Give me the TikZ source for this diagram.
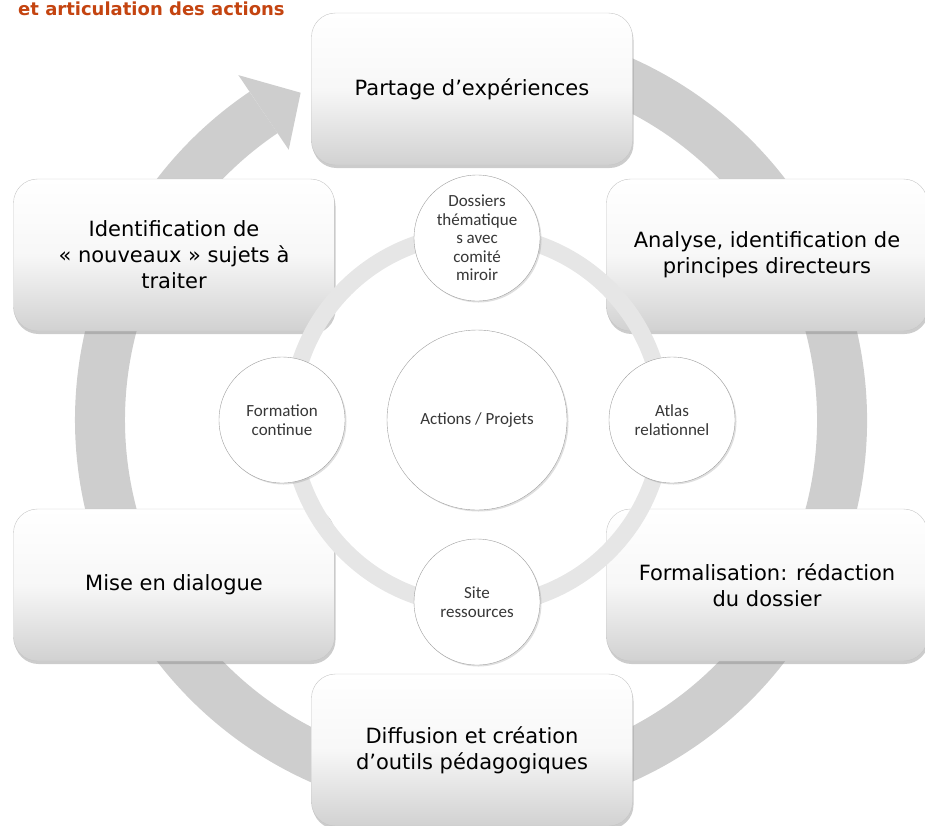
\documentclass[tikz,border=0pt]{standalone}
\usepackage{fontspec}
\setmainfont{DejaVu Sans}
\newfontfamily\circfont{Carlito}
\usepackage{xcolor}
\usepackage{tikz}
\usetikzlibrary{shadows}
\usetikzlibrary{positioning}
\definecolor{titlered}{RGB}{196,68,16}
\definecolor{ringgray}{RGB}{206,206,206}
\definecolor{ringlight}{RGB}{230,230,230}
\definecolor{circtext}{RGB}{55,55,55}
\tikzset{
    stagebox/.style = {rectangle, rounded corners=24pt, draw=gray!45, thin, top color=white, bottom color=black!18, middle color=white!97!black, minimum width=321pt, minimum height=152pt, align=center, font=\fontsize{21}{26}\selectfont, drop shadow={shadow xshift=1pt, shadow yshift=-3pt, opacity=0.4}},
    smallcirc/.style = {circle, draw=gray!75, fill=white, minimum size=126pt, inner sep=0pt, align=center, text=circtext, font=\circfont\fontsize{17}{18.5}\selectfont, drop shadow={shadow xshift=1.5pt, shadow yshift=-1.5pt, opacity=0.25}},
    bigcirc/.style = {smallcirc, minimum size=180pt},
}

\begin{document}
\begin{tikzpicture}[x=1pt, y=1pt]
\useasboundingbox (0,0) rectangle (925,-825);
\clip (0,0) rectangle (925,-825);
\node[anchor=base west, inner sep=0pt, text=titlered, font=\bfseries\fontsize{18}{22}\selectfont] (title) at (18,-15) {et articulation des actions};
%
\coordinate (c) at (471,-420);
\coordinate (ic) at (477,-420);
\draw[ringgray, line width=50pt] ([shift={(100:371pt)}]c) arc[start angle=100, end angle=-236, radius=371pt];
\fill[ringgray] ([shift={(124:416pt)}]c) -- ([shift={(117.5:369pt)}]c) -- ([shift={(124:326pt)}]c) -- cycle;
%
\node[stagebox] at (472,-89) (partage) {Partage d’expériences};
\node[stagebox] at (767,-255) (analyse) {Analyse, identification de\\principes directeurs};
\node[stagebox] at (767,-585) (formal) {Formalisation: rédaction\\du dossier};
\node[stagebox] at (472,-750) (diffusion) {Diffusion et création\\d’outils pédagogiques};
\node[stagebox] at (174,-585) (dialogue) {Mise en dialogue};
\node[stagebox] at (174,-255) (ident) {Identification de\\« nouveaux » sujets à\\traiter};
%
\draw[ringlight, line width=17pt] (ic) circle[radius=186pt];
%
\node[bigcirc] at (ic) (actions) {Actions / Projets};
\node[smallcirc] at (477,-238) (dossiers) {Dossiers\\thématique\\s avec\\comité\\miroir};
\node[smallcirc] at (672,-420) (atlas) {Atlas\\relationnel};
\node[smallcirc] at (477,-602) (site) {Site\\ressources};
\node[smallcirc] at (282,-420) (formation) {Formation\\continue};
\end{tikzpicture}
\end{document}
